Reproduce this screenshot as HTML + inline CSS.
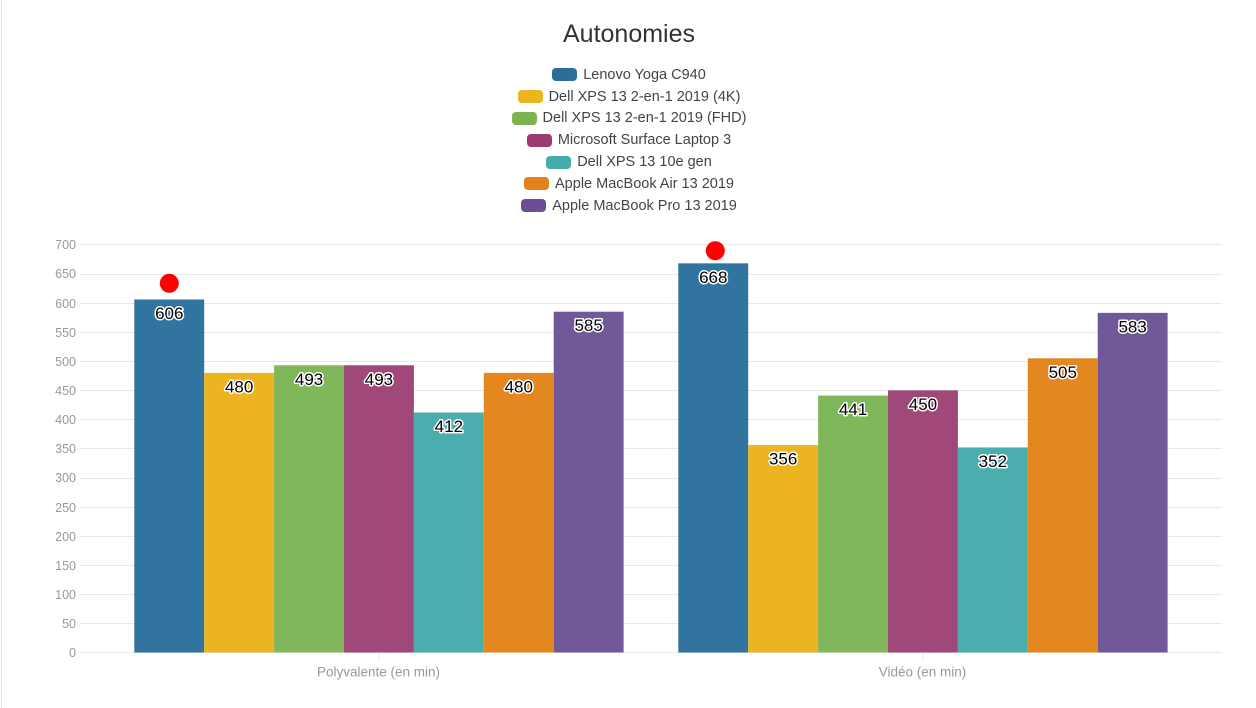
<!DOCTYPE html>
<html><head><meta charset="utf-8"><style>
html,body{margin:0;padding:0;background:#fff;}
body{width:1256px;height:708px;position:relative;overflow:hidden;font-family:"Liberation Sans",sans-serif;}
.lg{position:absolute;left:0;width:1258px;height:21.8px;display:flex;justify-content:center;align-items:center;font-size:14.5px;color:#444;}
.sw{width:25px;height:13px;border-radius:4px;margin-right:6px;flex:none;}
</style></head><body>
<svg width="1256" height="708" viewBox="0 0 1256 708" style="position:absolute;left:0;top:0" font-family="Liberation Sans, sans-serif">
<line x1="1.5" y1="0" x2="1.5" y2="708" stroke="#e2e2e2" stroke-width="1"/>
<text x="629" y="42" font-size="25" fill="#333" text-anchor="middle">Autonomies</text>
<g stroke="#e8e8e8" stroke-width="1">
<line x1="80" x2="1222" y1="652.5" y2="652.5"/>
<line x1="80" x2="1222" y1="623.5" y2="623.5"/>
<line x1="80" x2="1222" y1="594.5" y2="594.5"/>
<line x1="80" x2="1222" y1="565.5" y2="565.5"/>
<line x1="80" x2="1222" y1="536.5" y2="536.5"/>
<line x1="80" x2="1222" y1="507.5" y2="507.5"/>
<line x1="80" x2="1222" y1="478.5" y2="478.5"/>
<line x1="80" x2="1222" y1="448.5" y2="448.5"/>
<line x1="80" x2="1222" y1="419.5" y2="419.5"/>
<line x1="80" x2="1222" y1="390.5" y2="390.5"/>
<line x1="80" x2="1222" y1="361.5" y2="361.5"/>
<line x1="80" x2="1222" y1="332.5" y2="332.5"/>
<line x1="80" x2="1222" y1="303.5" y2="303.5"/>
<line x1="80" x2="1222" y1="274.5" y2="274.5"/>
<line x1="80" x2="1222" y1="244.5" y2="244.5"/>
<line x1="379" x2="379" y1="653" y2="659"/>
<line x1="923" x2="923" y1="653" y2="659"/>
</g>
<g font-size="12.5" fill="#999" text-anchor="end">
<text x="76" y="657">0</text>
<text x="76" y="628">50</text>
<text x="76" y="599">100</text>
<text x="76" y="570">150</text>
<text x="76" y="541">200</text>
<text x="76" y="512">250</text>
<text x="76" y="482">300</text>
<text x="76" y="453">350</text>
<text x="76" y="424">400</text>
<text x="76" y="395">450</text>
<text x="76" y="366">500</text>
<text x="76" y="337">550</text>
<text x="76" y="308">600</text>
<text x="76" y="278">650</text>
<text x="76" y="249">700</text>
</g>
<!-- group 1 -->
<rect x="134.3" y="299.46" width="69.9" height="353.04" fill="#3274a0"/>
<rect x="204.2" y="372.87" width="69.9" height="279.63" fill="#edb421"/>
<rect x="274.1" y="365.29" width="69.9" height="287.21" fill="#80b75b"/>
<rect x="344.0" y="365.29" width="69.9" height="287.21" fill="#a0487a"/>
<rect x="413.9" y="412.48" width="69.9" height="240.02" fill="#4baeae"/>
<rect x="483.8" y="372.87" width="69.9" height="279.63" fill="#e3871e"/>
<rect x="553.7" y="311.70" width="69.9" height="340.80" fill="#715899"/>
<!-- group 2 -->
<rect x="678.3" y="263.34" width="69.9" height="389.16" fill="#3274a0"/>
<rect x="748.2" y="445.10" width="69.9" height="207.40" fill="#edb421"/>
<rect x="818.1" y="395.57" width="69.9" height="256.93" fill="#80b75b"/>
<rect x="888.0" y="390.34" width="69.9" height="262.16" fill="#a0487a"/>
<rect x="957.9" y="447.44" width="69.9" height="205.06" fill="#4baeae"/>
<rect x="1027.8" y="358.30" width="69.9" height="294.20" fill="#e3871e"/>
<rect x="1097.7" y="312.86" width="69.9" height="339.64" fill="#715899"/>
<g font-size="17" fill="#000" text-anchor="middle" stroke="#fff" stroke-width="3" stroke-linejoin="round" paint-order="stroke">
<text x="169.25" y="319">606</text>
<text x="239.15" y="392.4">480</text>
<text x="309.05" y="384.8">493</text>
<text x="378.95" y="384.8">493</text>
<text x="448.85" y="432">412</text>
<text x="518.75" y="392.4">480</text>
<text x="588.65" y="331.2">585</text>
<text x="713.25" y="282.8">668</text>
<text x="783.15" y="464.6">356</text>
<text x="853.05" y="415.1">441</text>
<text x="922.95" y="409.8">450</text>
<text x="992.85" y="466.9">352</text>
<text x="1062.75" y="377.8">505</text>
<text x="1132.65" y="332.4">583</text>
</g>
<circle cx="169.3" cy="283.3" r="9.5" fill="#ff0000"/>
<circle cx="715.3" cy="250.7" r="9.5" fill="#ff0000"/>
<g font-size="13.5" fill="#999" text-anchor="middle">
<text x="378.5" y="676.5">Polyvalente (en min)</text>
<text x="922.5" y="676.5">Vidéo (en min)</text>
</g>
</svg>
<div class="lg" style="top:64px"><span class="sw" style="background:#2f6d99"></span>Lenovo Yoga C940</div>
<div class="lg" style="top:85.8px"><span class="sw" style="background:#edb421"></span>Dell XPS 13 2-en-1 2019 (4K)</div>
<div class="lg" style="top:107.6px"><span class="sw" style="background:#7cb550"></span>Dell XPS 13 2-en-1 2019 (FHD)</div>
<div class="lg" style="top:129.4px"><span class="sw" style="background:#9c3a72"></span>Microsoft Surface Laptop 3</div>
<div class="lg" style="top:151.2px"><span class="sw" style="background:#45abab"></span>Dell XPS 13 10e gen</div>
<div class="lg" style="top:173px"><span class="sw" style="background:#e3821a"></span>Apple MacBook Air 13 2019</div>
<div class="lg" style="top:194.8px"><span class="sw" style="background:#6a4f95"></span>Apple MacBook Pro 13 2019</div>
</body></html>
